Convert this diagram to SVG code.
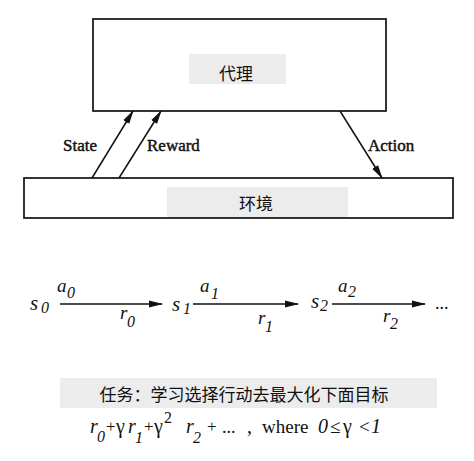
<svg xmlns="http://www.w3.org/2000/svg" width="474" height="461" viewBox="0 0 474 461">
<style>
.box{fill:#fff;stroke:#111;stroke-width:1.7}
.bg{fill:#ececec}
.cn{font-family:"Noto Sans CJK SC","Noto Sans",sans-serif;font-size:17px;fill:#111;text-anchor:middle}
.lbl{font-family:"Liberation Serif",serif;font-size:17px;fill:#111;stroke:#111;stroke-width:0.45}
.ln{stroke:#111;stroke-width:1.5;fill:none}
.it{font-family:"Liberation Serif",serif;font-style:italic;fill:#111}
.rm{font-family:"Liberation Serif",serif;fill:#111}
</style>
<defs>
<marker id="ah" markerWidth="14" markerHeight="8" refX="13" refY="4" orient="auto" markerUnits="userSpaceOnUse">
<path d="M0,0.5 L14,4 L0,7.5 Z" fill="#111"/>
</marker>
</defs>
<rect width="474" height="461" fill="#fff"/>
<g id="agent">
<rect class="box" x="93" y="19" width="293" height="92"/>
<rect class="bg" x="189" y="54" width="97" height="30"/>
<text class="cn" x="236" y="80">代理</text>
</g>
<g id="environment">
<rect class="box" x="24" y="178" width="429" height="40"/>
<rect class="bg" x="167" y="187" width="181" height="30"/>
<text class="cn" x="256" y="210">环境</text>
</g>
<g id="connectors">
<line class="ln" x1="92" y1="178" x2="133" y2="111" marker-end="url(#ah)"/>
<line class="ln" x1="119" y1="178" x2="161" y2="111" marker-end="url(#ah)"/>
<line class="ln" x1="340" y1="111" x2="382" y2="178" marker-end="url(#ah)"/>
<text class="lbl" x="63" y="151">State</text>
<text class="lbl" x="147" y="151">Reward</text>
<text class="lbl" x="368" y="151">Action</text>
</g>
<g id="sequence">
<line class="ln" x1="60" y1="304" x2="162" y2="304" marker-end="url(#ah)"/>
<line class="ln" x1="193" y1="304" x2="298" y2="304" marker-end="url(#ah)"/>
<line class="ln" x1="332" y1="304" x2="425" y2="304" marker-end="url(#ah)"/>
<text class="it" font-size="21" x="30" y="310">s</text><text class="it" font-size="16" x="41" y="313">0</text>
<text class="it" font-size="19" x="57" y="292">a</text><text class="it" font-size="16" x="67" y="298">0</text>
<text class="it" font-size="19" x="120" y="319">r</text><text class="it" font-size="16" x="127" y="327">0</text>
<text class="it" font-size="21" x="172" y="311">s</text><text class="it" font-size="16" x="183" y="314">1</text>
<text class="it" font-size="19" x="200" y="292">a</text><text class="it" font-size="16" x="211" y="299">1</text>
<text class="it" font-size="19" x="258" y="324">r</text><text class="it" font-size="16" x="265" y="332">1</text>
<text class="it" font-size="21" x="311" y="308">s</text><text class="it" font-size="16" x="320" y="311">2</text>
<text class="it" font-size="19" x="338" y="292">a</text><text class="it" font-size="16" x="348" y="297">2</text>
<text class="it" font-size="19" x="383" y="322">r</text><text class="it" font-size="16" x="390" y="329">2</text>
<text class="rm" font-size="18" x="435" y="309">...</text>
</g>
<g id="task">
<rect class="bg" x="60" y="378" width="377" height="30"/>
<text class="cn" x="244" y="401" font-size="17.5">任务：学习选择行动去最大化下面目标</text>
</g>
<g id="formula">
<text class="it" font-size="20" x="90" y="433">r</text>
<text class="it" font-size="16" x="97" y="442">0</text>
<text class="rm" font-size="17" x="106" y="432">+</text>
<text class="rm" font-size="20" x="116" y="433">γ</text>
<text class="it" font-size="20" x="128" y="433">r</text>
<text class="it" font-size="16" x="135" y="443">1</text>
<text class="rm" font-size="17" x="144" y="432">+</text>
<text class="rm" font-size="20" x="154" y="433">γ</text>
<text class="rm" font-size="16" x="164" y="423">2</text>
<text class="it" font-size="20" x="186" y="433">r</text>
<text class="it" font-size="16" x="193" y="443">2</text>
<text class="rm" font-size="17" x="207" y="432">+</text>
<text class="rm" font-size="18" x="222" y="433">...</text>
<text class="rm" font-size="20" x="247" y="433">,</text>
<text class="rm" font-size="19" x="262" y="433">where</text>
<text class="it" font-size="20" x="318" y="433">0</text>
<text class="rm" font-size="19" x="330" y="433">≤</text>
<text class="rm" font-size="20" x="343" y="433">γ</text>
<text class="rm" font-size="19" x="359" y="433">&lt;</text>
<text class="it" font-size="20" x="371" y="433">1</text>
</g>
</svg>
